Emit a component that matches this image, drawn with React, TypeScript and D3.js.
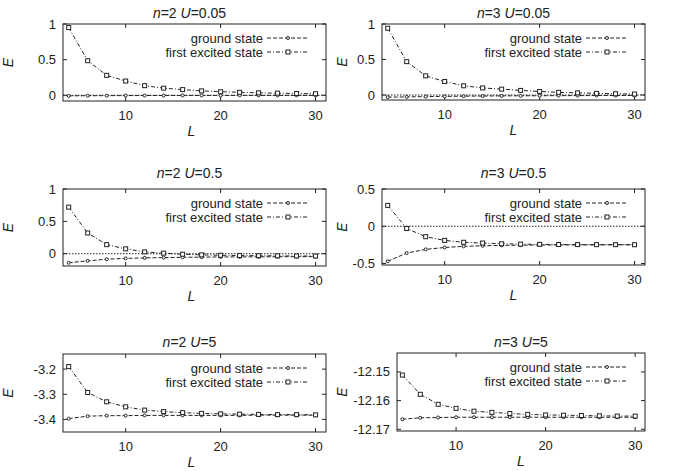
import React from "react";
import * as d3 from "d3";

// system sizes L
const sizes = [4, 6, 8, 10, 12, 14, 16, 18, 20, 22, 24, 26, 28, 30];

// n=2, U=0.05
const n2u005Ground = [-0.008, -0.006, -0.005, -0.004, -0.003, -0.003, -0.002, -0.002, -0.002, -0.001, -0.001, -0.001, -0.001, -0.001];
const n2u005Excited = [0.95, 0.485, 0.28, 0.2, 0.135, 0.1, 0.08, 0.062, 0.05, 0.042, 0.035, 0.03, 0.025, 0.022];
// n=3, U=0.05
const n3u005Ground = [-0.03, -0.026, -0.022, -0.019, -0.016, -0.014, -0.012, -0.011, -0.01, -0.009, -0.008, -0.007, -0.007, -0.006];
const n3u005Excited = [0.94, 0.47, 0.27, 0.19, 0.13, 0.1, 0.083, 0.065, 0.05, 0.038, 0.03, 0.024, 0.018, 0.014];
// n=2, U=0.5
const n2u05Ground = [-0.14, -0.11, -0.085, -0.072, -0.065, -0.06, -0.056, -0.053, -0.05, -0.049, -0.048, -0.047, -0.046, -0.045];
const n2u05Excited = [0.72, 0.32, 0.14, 0.075, 0.028, 0.008, -0.008, -0.018, -0.024, -0.028, -0.031, -0.033, -0.035, -0.036];
// n=3, U=0.5
const n3u05Ground = [-0.47, -0.36, -0.31, -0.285, -0.27, -0.262, -0.257, -0.254, -0.252, -0.251, -0.25, -0.25, -0.249, -0.249];
const n3u05Excited = [0.28, -0.03, -0.14, -0.19, -0.215, -0.225, -0.235, -0.24, -0.243, -0.245, -0.246, -0.247, -0.247, -0.248];
// n=2, U=5
const n2u5Ground = [-3.397, -3.387, -3.385, -3.385, -3.384, -3.384, -3.384, -3.384, -3.384, -3.384, -3.383, -3.383, -3.383, -3.383];
const n2u5Excited = [-3.19, -3.293, -3.33, -3.35, -3.363, -3.369, -3.373, -3.376, -3.378, -3.379, -3.38, -3.381, -3.381, -3.382];
// n=3, U=5
const n3u5Ground = [-12.1665, -12.166, -12.1659, -12.1658, -12.1658, -12.1658, -12.1658, -12.1658, -12.1658, -12.1658, -12.1658, -12.1658, -12.1658, -12.1658];
const n3u5Excited = [-12.1511, -12.1578, -12.1613, -12.1627, -12.1637, -12.1641, -12.1645, -12.1648, -12.165, -12.1651, -12.1652, -12.1653, -12.1654, -12.1654];

const xTicks = [10, 20, 30];
const legendLabels = ["ground state", "first excited state"];

const panels = [
  { n: 2, U: "0.05", ground: n2u005Ground, excited: n2u005Excited, yTicks: [0, 0.5, 1], yDomain: [-0.08, 1], zero: true, box: [63, 24, 326, 101], titleY: 18 },
  { n: 3, U: "0.05", ground: n3u005Ground, excited: n3u005Excited, yTicks: [0, 0.5, 1], yDomain: [-0.07, 1], zero: true, box: [382, 24, 645, 100], titleY: 18 },
  { n: 2, U: "0.5", ground: n2u05Ground, excited: n2u05Excited, yTicks: [0, 0.5, 1], yDomain: [-0.19, 1], zero: true, box: [63, 189, 326, 266], titleY: 178 },
  { n: 3, U: "0.5", ground: n3u05Ground, excited: n3u05Excited, yTicks: [-0.5, 0, 0.5], yDomain: [-0.52, 0.5], zero: true, box: [382, 189, 645, 265], titleY: 178 },
  { n: 2, U: "5", ground: n2u5Ground, excited: n2u5Excited, yTicks: [-3.2, -3.3, -3.4], yDomain: [-3.45, -3.14], zero: false, box: [63, 354, 326, 432], titleY: 347 },
  { n: 3, U: "5", ground: n3u5Ground, excited: n3u5Excited, yTicks: [-12.15, -12.16, -12.17], yDomain: [-12.1706, -12.1434], zero: false, box: [397, 353, 645, 431], titleY: 347 },
];

const ink = "#222";
const font = "'Liberation Sans', Arial, sans-serif";

const Panel = ({ p }) => {
  const [x0, y0, x1, y1] = p.box;
  const x = d3.scaleLinear().domain([3.4, 31.1]).range([x0, x1]);
  const y = d3.scaleLinear().domain(p.yDomain).range([y1, y0]);
  const line = d3
    .line()
    .x((d, i) => x(sizes[i]))
    .y((d) => y(d));
  const tl = 4;
  const leftCol = x0 < 100;
  const cx = (x0 + x1) / 2 - (leftCol ? 5 : 0);
  const eX = leftCol ? 8 : 342;
  const lgRight = x1;
  const lgY = [y0 + 14, y0 + 28];

  return (
    <g>
      <text x={cx} y={p.titleY} textAnchor="middle" fontSize={14} fill={ink}>
        <tspan fontStyle="italic">n</tspan>={p.n} <tspan fontStyle="italic">U</tspan>={p.U}
      </text>
      {p.zero && (
        <line x1={x0} x2={x1} y1={y(0)} y2={y(0)} stroke={ink} strokeWidth={1} strokeDasharray="1.5,1.5" />
      )}
      {/* ticks */}
      {xTicks.map((t) => (
        <g key={"x" + t}>
          <line x1={x(t)} x2={x(t)} y1={y1} y2={y1 - tl} stroke={ink} />
          <line x1={x(t)} x2={x(t)} y1={y0} y2={y0 + tl} stroke={ink} />
          <text x={x(t)} y={y1 + 19} textAnchor="middle" fontSize={13} fill={ink}>
            {t}
          </text>
        </g>
      ))}
      {p.yTicks.map((t) => (
        <g key={"y" + t}>
          <line x1={x0} x2={x0 + tl} y1={y(t)} y2={y(t)} stroke={ink} />
          <line x1={x1} x2={x1 - tl} y1={y(t)} y2={y(t)} stroke={ink} />
          <text x={x0 - 7} y={y(t) + 4.5} textAnchor="end" fontSize={13} fill={ink}>
            {String(t)}
          </text>
        </g>
      ))}
      <text x={(x0 + x1) / 2 - (leftCol ? 3 : 0)} y={y1 + 35} textAnchor="middle" fontSize={14} fontStyle="italic" fill={ink}>
        L
      </text>
      <text
        transform={`translate(${eX},${(y0 + y1) / 2}) rotate(-90)`}
        textAnchor="middle"
        dy="0.35em"
        fontSize={14}
        fontStyle="italic"
        fill={ink}
      >
        E
      </text>

      {/* series */}
      <path d={line(p.ground)} fill="none" stroke={ink} strokeWidth={1} strokeDasharray="4,2" />
      <path d={line(p.excited)} fill="none" stroke={ink} strokeWidth={1} strokeDasharray="4,2,1,2" />
      {p.ground.map((v, i) => (
        <circle key={"g" + i} cx={x(sizes[i])} cy={y(v)} r={1.5} fill="#fff" stroke={ink} strokeWidth={1} />
      ))}
      {p.excited.map((v, i) => (
        <rect key={"e" + i} x={x(sizes[i]) - 2} y={y(v) - 2} width={4} height={4} fill="#fff" stroke={ink} strokeWidth={1} />
      ))}

      {/* legend */}
      {legendLabels.map((lab, k) => (
        <g key={lab}>
          <text x={lgRight - 63} y={lgY[k] + 4.5} textAnchor="end" fontSize={13} fill={ink}>
            {lab}
          </text>
          <line
            x1={lgRight - 59}
            x2={lgRight - 18}
            y1={lgY[k]}
            y2={lgY[k]}
            stroke={ink}
            strokeDasharray={k === 0 ? "4,2" : "4,2,1,2"}
          />
          {k === 0 ? (
            <circle cx={lgRight - 38} cy={lgY[k]} r={1.5} fill="#fff" stroke={ink} />
          ) : (
            <rect x={lgRight - 40} y={lgY[k] - 2} width={4} height={4} fill="#fff" stroke={ink} />
          )}
        </g>
      ))}

      <rect x={x0} y={y0} width={x1 - x0} height={y1 - y0} fill="none" stroke={ink} strokeWidth={1} />
    </g>
  );
};

export default function App() {
  return (
    <svg
      width={675}
      height={471}
      style={{ position: "absolute", left: 0, top: 0, background: "#fff", fontFamily: font }}
    >
      {panels.map((p, i) => (
        <Panel key={i} p={p} />
      ))}
    </svg>
  );
}
